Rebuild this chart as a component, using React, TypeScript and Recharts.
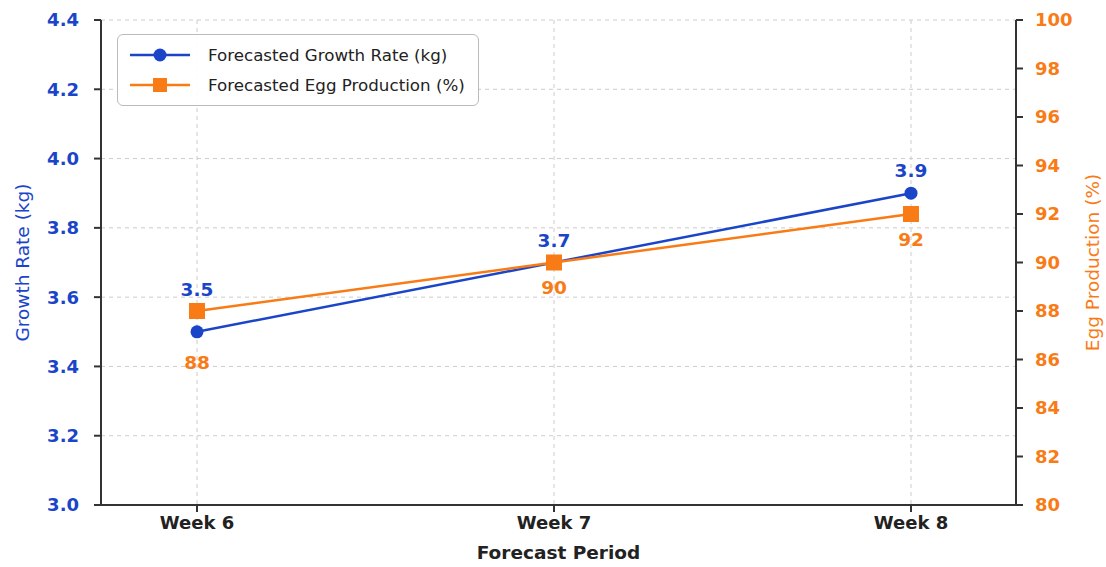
import { LineChart, Line, XAxis, YAxis, CartesianGrid, LabelList, Label } from 'recharts'

const weeks = ['Week 6', 'Week 7', 'Week 8']
const growthRate = [3.5, 3.7, 3.9]
const eggProduction = [88, 90, 92]
const growthTicks = [3.0, 3.2, 3.4, 3.6, 3.8, 4.0, 4.2, 4.4]
const eggTicks = [80, 82, 84, 86, 88, 90, 92, 94, 96, 98, 100]

// label distance from its marker, per week (week 6 marks sit close together)
const growthLabelGap = [36, 16, 16]
const eggLabelGap = [44, 18, 18]

const BLUE = '#1a45c8'
const ORANGE = '#f97b16'
const AXIS = '#333333'
const FONT = '"DejaVu Sans", Verdana, sans-serif'

const data = weeks.map((week, i) => ({
  week,
  growth: growthRate[i],
  egg: eggProduction[i],
}))

function LegendBox() {
  const rows = [
    { label: 'Forecasted Growth Rate (kg)', color: BLUE, shape: 'circle' },
    { label: 'Forecasted Egg Production (%)', color: ORANGE, shape: 'square' },
  ]
  return (
    <div
      style={{
        position: 'absolute',
        left: 117,
        top: 34,
        width: 362,
        height: 72,
        boxSizing: 'border-box',
        border: '1px solid #bbbbbb',
        borderRadius: 6,
        background: 'rgba(255,255,255,0.92)',
        padding: '5px 0 5px 10px',
        fontFamily: FONT,
        fontSize: 16.7,
        color: '#222',
      }}
    >
      {rows.map((r) => (
        <div key={r.label} style={{ display: 'flex', alignItems: 'center', height: 30 }}>
          <svg width={64} height={20} style={{ marginRight: 16 }}>
            <line x1={2} y1={10} x2={62} y2={10} stroke={r.color} strokeWidth={2.5} />
            {r.shape === 'circle' ? (
              <circle cx={32} cy={10} r={6.5} fill={r.color} />
            ) : (
              <rect x={25} y={3} width={14} height={14} fill={r.color} />
            )}
          </svg>
          <span>{r.label}</span>
        </div>
      ))}
    </div>
  )
}

const makeLabel =
  (color: string, gaps: number[], above: boolean, digits: number) => (props: any) => {
    const { x, y, value, index } = props
    const gap = gaps[index] ?? 16
    return (
      <text
        x={x}
        y={above ? y - gap : y + gap}
        textAnchor="middle"
        dominantBaseline={above ? 'auto' : 'hanging'}
        fill={color}
        fontSize={18.5}
        fontWeight={700}
        fontFamily={FONT}
      >
        {Number(value).toFixed(digits)}
      </text>
    )
  }

export default function App() {
  return (
    <div style={{ position: 'absolute', left: 0, top: 0, width: 1106, height: 567, background: '#fff' }}>
      <LineChart width={1106} height={567} data={data} margin={{ top: 20, right: 0, bottom: 0, left: 0 }}>
        <CartesianGrid yAxisId="left" stroke="#cccccc" strokeDasharray="4 4" />
        <XAxis
          dataKey="week"
          height={62}
          padding={{ left: 96, right: 105 }}
          stroke={AXIS}
          strokeWidth={2}
          tickSize={7}
          tickMargin={4}
          tick={{ fill: '#222', fontSize: 18, fontWeight: 700, fontFamily: FONT }}
        >
          <Label
            value="Forecast Period"
            position="insideBottom"
            offset={8}
            style={{ fill: '#222', fontSize: 18.5, fontWeight: 700, fontFamily: FONT }}
          />
        </XAxis>
        <YAxis
          yAxisId="left"
          width={101}
          domain={[3.0, 4.4]}
          ticks={growthTicks}
          tickFormatter={(v: number) => v.toFixed(1)}
          stroke={AXIS}
          strokeWidth={2}
          tickSize={7}
          tickMargin={15}
          tick={{ fill: BLUE, fontSize: 18, fontWeight: 700, fontFamily: FONT }}
        >
          <Label
            value="Growth Rate (kg)"
            angle={-90}
            position="insideLeft"
            offset={22}
            style={{ fill: BLUE, fontSize: 18.5, textAnchor: 'middle', fontFamily: FONT }}
          />
        </YAxis>
        <YAxis
          yAxisId="right"
          orientation="right"
          width={90}
          domain={[80, 100]}
          ticks={eggTicks}
          stroke={AXIS}
          strokeWidth={2}
          tickSize={7}
          tickMargin={12}
          tick={{ fill: ORANGE, fontSize: 18, fontWeight: 700, fontFamily: FONT }}
        >
          <Label
            value="Egg Production (%)"
            angle={-90}
            position="insideRight"
            offset={14}
            style={{ fill: ORANGE, fontSize: 18.5, textAnchor: 'middle', fontFamily: FONT }}
          />
        </YAxis>
        <Line
          yAxisId="left"
          dataKey="growth"
          stroke={BLUE}
          strokeWidth={2.5}
          dot={{ r: 6.5, fill: BLUE, stroke: BLUE, strokeWidth: 0 }}
          isAnimationActive={false}
        >
          <LabelList dataKey="growth" content={makeLabel(BLUE, growthLabelGap, true, 1)} />
        </Line>
        <Line
          yAxisId="right"
          dataKey="egg"
          stroke={ORANGE}
          strokeWidth={2.5}
          dot={(p: any) => (
            <rect key={p.index} x={p.cx - 8} y={p.cy - 8} width={16} height={16} fill={ORANGE} />
          )}
          isAnimationActive={false}
        >
          <LabelList dataKey="egg" content={makeLabel(ORANGE, eggLabelGap, false, 0)} />
        </Line>
      </LineChart>
      <LegendBox />
    </div>
  )
}
